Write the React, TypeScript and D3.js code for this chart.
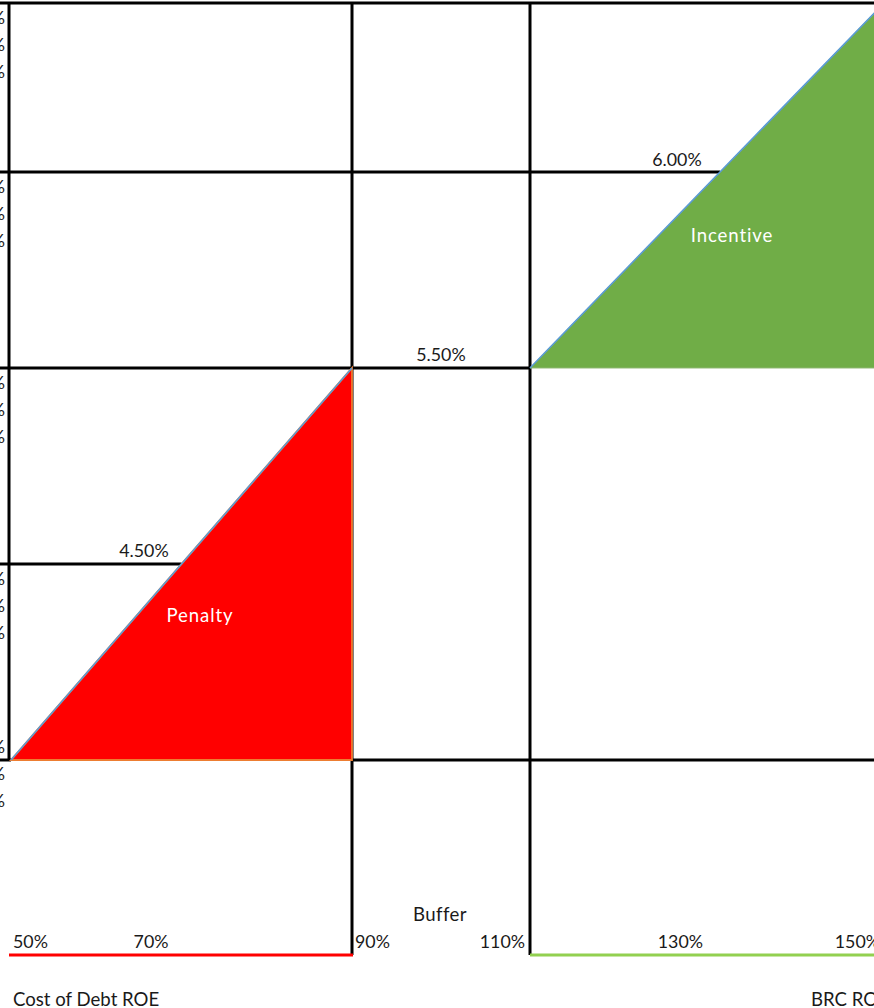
import React from "react";
import * as d3 from "d3";

// ---- data ----
const xTicks = [50, 70, 90, 110, 130, 150];
const xTickLabels = ["50%", "70%", "90%", "110%", "130%", "150%"];
// levels (row index on the schematic y axis) and their labels
const levelRows = [1, 2, 3];
const levelLabels = ["4.50%", "5.50%", "6.00%"];
// penalty line: ROE% -> level row
const penaltyX = [50, 90];
const penaltyY = [0, 2];
// incentive line
const incentiveX = [110, 150];
const incentiveY = [2, 3.82];
// y-axis tick labels (mostly clipped at the left edge), grouped per band
const leftTickGroups = [
  ["7.00%", "6.80%", "6.60%"],
  ["6.00%", "5.80%", "5.60%"],
  ["5.50%", "5.20%", "5.00%"],
  ["4.50%", "4.20%", "4.00%"],
  ["3.50%", "3.20%", "3.00%"],
];
const leftTickRows = [3.862, 3, 2, 1, 0];
const bandLabels = ["Penalty", "Incentive"];
const bottomLabels = ["Cost of Debt ROE", "Buffer", "BRC ROE"];

const W = 874;
const H = 1008;
const FONT = "Lato, 'Open Sans', sans-serif";

const x = d3.scaleLinear().domain([50, 90, 110, 150]).range([11, 352, 530, 876]);
const y = d3.scaleLinear().domain([0, 3.862]).range([760, 3]);

const interpX = (xs: number[], ys: number[], row: number) =>
  xs[0] + ((row - ys[0]) / (ys[1] - ys[0])) * (xs[1] - xs[0]);

export default function App() {
  const axisX = 9;
  const baseY = 955;
  const line = d3
    .line<[number, number]>()
    .x((d) => x(d[0]))
    .y((d) => y(d[1]));
  const penaltyPts: [number, number][] = penaltyX.map((v, i) => [v, penaltyY[i]]);
  const incentivePts: [number, number][] = incentiveX.map((v, i) => [v, incentiveY[i]]);
  const penaltyArea: [number, number][] = [...penaltyPts, [penaltyX[1], penaltyY[0]]];
  const incentiveArea: [number, number][] = [...incentivePts, [incentiveX[1], incentiveY[0]]];

  const lvlEnd = [
    x(interpX(penaltyX, penaltyY, levelRows[0])),
    x(incentiveX[0]),
    x(interpX(incentiveX, incentiveY, levelRows[2])),
  ];

  const tickAnchor = ["start", "end", "start", "end", "end", "end"];
  const tickDx = [2, -13, 3, -5, 0, 4];

  const black = "#000";
  const sw = 3;
  const numFs = 17.8;
  const wordFs = 18.6;

  return (
    <svg
      width={W}
      height={H}
      style={{ position: "absolute", left: 0, top: 0, display: "block", background: "#fff" }}
      fontFamily={FONT}
    >
      {/* left clipped tick labels */}
      {leftTickGroups.map((g, gi) =>
        g.map((t, k) => {
          const base = y(leftTickRows[gi]);
          const yy = gi === 4 ? base - 7 + k * 27 : base + 21 + k * 27;
          return (
            <text key={`lt${gi}-${k}`} x={5} y={yy} fontSize={numFs} textAnchor="end" fill="#1a1a1a">
              {t}
            </text>
          );
        })
      )}

      {/* top border */}
      <line x1={0} x2={W} y1={y(3.862)} y2={y(3.862)} stroke={black} strokeWidth={3} />
      {/* level lines */}
      {levelRows.map((r, i) => (
        <line key={`lv${i}`} x1={0} x2={lvlEnd[i]} y1={y(r)} y2={y(r)} stroke={black} strokeWidth={sw} />
      ))}
      {/* bottom row line */}
      <line x1={0} x2={x(50)} y1={y(0)} y2={y(0)} stroke={black} strokeWidth={sw} />
      <line x1={x(90)} x2={W} y1={y(0)} y2={y(0)} stroke={black} strokeWidth={sw} />
      {/* vertical lines */}
      <line x1={axisX} x2={axisX} y1={y(3.862)} y2={y(0)} stroke={black} strokeWidth={sw} />
      <line x1={x(90)} x2={x(90)} y1={y(3.862)} y2={baseY} stroke={black} strokeWidth={sw} />
      <line x1={x(110)} x2={x(110)} y1={y(3.862)} y2={baseY} stroke={black} strokeWidth={sw} />

      {/* areas */}
      <path d={line(penaltyArea)! + "Z"} fill="#FF0000" stroke="#ED7D31" strokeWidth={1.8} />
      <path d={line(incentiveArea)! + "Z"} fill="#70AD47" stroke="#8DB870" strokeWidth={1} />
      {/* diagonal lines */}
      <path d={line(penaltyPts)!} fill="none" stroke="#5B9BD5" strokeWidth={1.6} />
      <path d={line(incentivePts)!} fill="none" stroke="#5B9BD5" strokeWidth={1.6} />

      {/* level labels */}
      <text x={677} y={166} fontSize={numFs} textAnchor="middle" fill="#1a1a1a">{levelLabels[2]}</text>
      <text x={441} y={361} fontSize={numFs} textAnchor="middle" fill="#1a1a1a">{levelLabels[1]}</text>
      <text x={144} y={557} fontSize={numFs} textAnchor="middle" fill="#1a1a1a">{levelLabels[0]}</text>

      {/* band labels */}
      <text x={200} y={622} fontSize={wordFs} textAnchor="middle" fill="#fff" letterSpacing={0.9}>{bandLabels[0]}</text>
      <text x={732} y={242} fontSize={wordFs} textAnchor="middle" fill="#fff" letterSpacing={0.9}>{bandLabels[1]}</text>

      {/* bottom underlines */}
      <line x1={axisX} x2={x(90) + 1} y1={baseY} y2={baseY} stroke="#FF0000" strokeWidth={3} />
      <line x1={x(110)} x2={W} y1={baseY} y2={baseY} stroke="#92D050" strokeWidth={3} />

      {/* x tick labels */}
      {xTicks.map((t, i) => (
        <text
          key={`xt${i}`}
          x={x(t) + tickDx[i]}
          y={948}
          fontSize={numFs}
          textAnchor={tickAnchor[i] as any}
          fill="#1a1a1a"
        >
          {xTickLabels[i]}
        </text>
      ))}

      {/* bottom labels */}
      <text x={13} y={1006} fontSize={wordFs} fill="#1a1a1a">{bottomLabels[0]}</text>
      <text x={440} y={921} fontSize={wordFs} textAnchor="middle" fill="#1a1a1a" letterSpacing={0.4}>{bottomLabels[1]}</text>
      <text x={811} y={1006} fontSize={wordFs} fill="#1a1a1a">{bottomLabels[2]}</text>
    </svg>
  );
}
